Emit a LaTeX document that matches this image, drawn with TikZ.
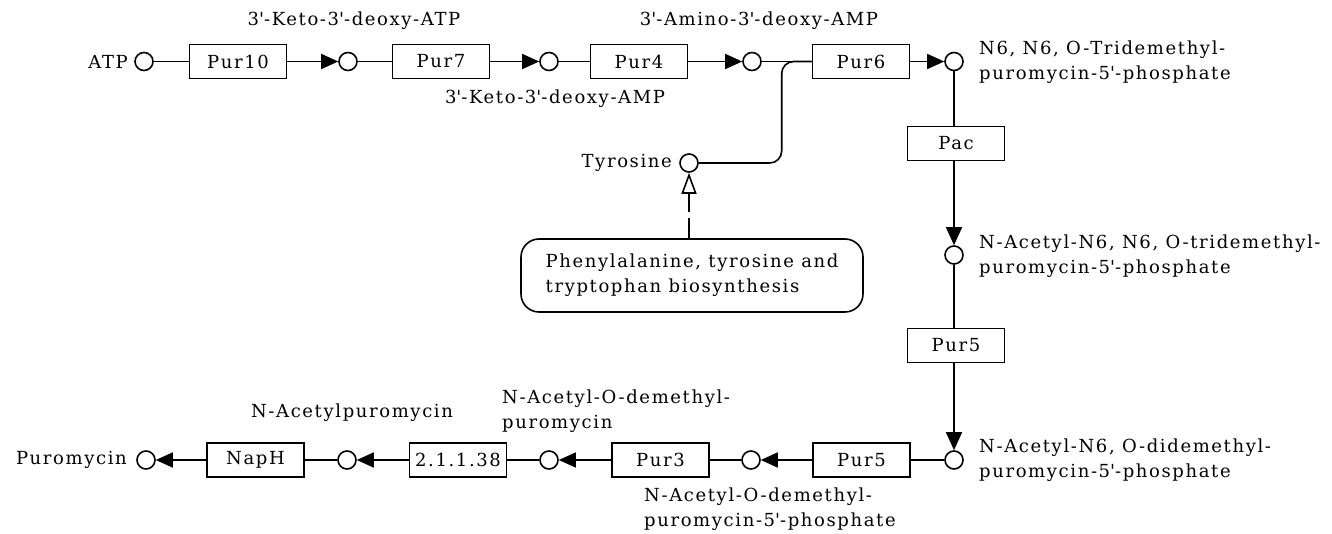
\documentclass[tikz,border=0pt]{standalone}
\usepackage{fontspec}
\setmainfont{DejaVu Serif}[LetterSpace=9]
\usetikzlibrary{arrows.meta}
\newcommand\ap{\textquotesingle}
\begin{document}
\begin{tikzpicture}[x=1pt,y=-1pt,
  every node/.style={font=\fontsize{18}{25}\selectfont},
  met/.style={circle,draw,line width=1.6pt,minimum size=18pt,inner sep=0pt},
  enz/.style={draw,line width=1.6pt,minimum width=97pt,minimum height=34pt,inner sep=0pt},
  lbl/.style={inner sep=0pt,align=left},
  conn/.style={line width=1.6pt},
  arr/.style={conn,-{Triangle[length=17pt,width=15pt]}},
  varr/.style={conn,-{Triangle[length=18pt,width=16pt]}}]
\useasboundingbox (0,0) rectangle (1332,534);
% top row
\node[met] (m1) at (144,61.5) {};
\node[enz] (e1) at (238,61.5) {Pur10};
\node[met] (m2) at (348,61.5) {};
\node[enz] (e2) at (441,61.5) {Pur7};
\node[met] (m3) at (549,61.5) {};
\node[enz] (e3) at (639,61.5) {Pur4};
\node[met] (m4) at (752,61.5) {};
\node[enz] (e4) at (861,61.5) {Pur6};
\node[met] (m5) at (954,61.5) {};
% column
\node[enz] (pac) at (956,143.5) {Pac};
\node[met] (m6) at (954,255) {};
\node[enz] (e5v) at (956,345.5) {Pur5};
\node[met] (m7) at (954,460) {};
% bottom row
\node[enz] (e5) at (861.5,460) {Pur5};
\node[met] (m8) at (751,460) {};
\node[enz] (e6) at (660.5,460) {Pur3};
\node[met] (m9) at (549,460) {};
\node[enz] (e7) at (458,460) {2.1.1.38};
\node[met] (m10) at (347,460) {};
\node[enz] (e8) at (255.5,460) {NapH};
\node[met] (m11) at (146,460) {};
% tyrosine branch
\node[met] (tyr) at (689,163) {};
\node[draw,line width=1.6pt,rounded corners=18pt,minimum width=342pt,minimum height=73pt,align=left] (phe) at (692,275.5) {Phenylalanine, tyrosine and\\tryptophan biosynthesis};
% labels
\node[lbl,anchor=east] (lATP) at (128,61.5) {ATP};
\node[lbl] (l2) at (354,21) {3\ap-Keto-3\ap-deoxy-ATP};
\node[lbl] (l3) at (555,99) {3\ap-Keto-3\ap-deoxy-AMP};
\node[lbl] (l4) at (759,21) {3\ap-Amino-3\ap-deoxy-AMP};
\node[lbl,anchor=west] (l5) at (979,62) {N6, N6, O-Tridemethyl-\\puromycin-5\ap-phosphate};
\node[lbl,anchor=west] (l6) at (979,256) {N-Acetyl-N6, N6, O-tridemethyl-\\puromycin-5\ap-phosphate};
\node[lbl,anchor=west] (l7) at (979,460) {N-Acetyl-N6, O-didemethyl-\\puromycin-5\ap-phosphate};
\node[lbl,anchor=west] (l8) at (644,509) {N-Acetyl-O-demethyl-\\puromycin-5\ap-phosphate};
\node[lbl,anchor=west] (l9) at (502,411) {N-Acetyl-O-demethyl-\\puromycin};
\node[lbl] (l10) at (352,413) {N-Acetylpuromycin};
\node[lbl,anchor=east] (l11) at (127,460) {Puromycin};
\node[lbl,anchor=east] (lt) at (672,163) {Tyrosine};
% connectors
\draw[conn] (m1) -- (e1);
\draw[arr] (e1) -- (m2);
\draw[conn] (m2) -- (e2);
\draw[arr] (e2) -- (m3);
\draw[conn] (m3) -- (e3);
\draw[arr] (e3) -- (m4);
\draw[conn] (m4) -- (e4);
\draw[arr] (e4) -- (m5);
\draw[conn] (m5) -- (m5 |- pac.north);
\draw[varr] (pac.south -| m6) -- (m6);
\draw[conn] (m6) -- (m6 |- e5v.north);
\draw[varr] (e5v.south -| m7) -- (m7);
\draw[conn] (m7) -- (e5);
\draw[arr] (e5) -- (m8);
\draw[conn] (m8) -- (e6);
\draw[arr] (e6) -- (m9);
\draw[conn] (m9) -- (e7);
\draw[arr] (e7) -- (m10);
\draw[conn] (m10) -- (e8);
\draw[arr] (e8) -- (m11);
\draw[conn,rounded corners=12pt] (tyr.east) -| ([xshift=-30pt]e4.west) -- (e4.west);
\draw[conn,dash pattern=on 20pt off 6pt,-{Triangle[open,length=21pt,width=15pt]}] (phe.north -| tyr) -- (tyr);
\end{tikzpicture}
\end{document}
